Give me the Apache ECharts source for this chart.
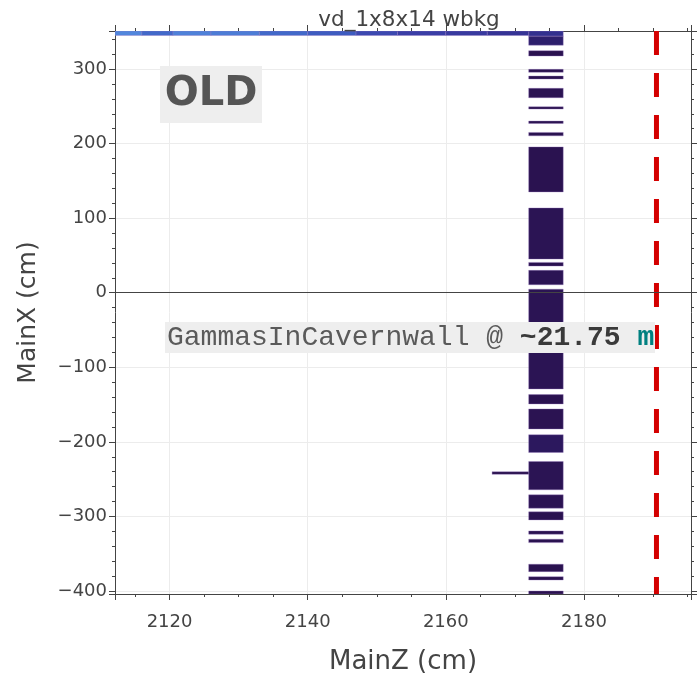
<!DOCTYPE html>
<html>
<head>
<meta charset="utf-8">
<script src="https://cdn.jsdelivr.net/npm/echarts@6.0.0/dist/echarts.min.js"></script>
<style>
html,body{margin:0;padding:0;background:#fff;}
#chart{width:699px;height:674px;}
</style>
</head>
<body>
<div id="chart"></div>
<script>
// ---- data ----
const titleText = "vd_1x8x14 wbkg";
const xName = "MainZ (cm)";
const yName = "MainX (cm)";
const zRange = [2112.1, 2195.5];
const xRange = [-404, 351];

// detector column (MainZ extent) and its bands along MainX
const columnZ = [2172.0, 2177.0];
const bandLow  = [344, 332, 317.5, 295.6, 286.6, 261.5, 246.3, 227.1, 210.4, 135.2, 45.1, 35.7, 10.7, -129, -149.1, -182.7, -214.2, -264.3, -288.9, -304.6, -323.8, -335.1, -374, -385.2, -404];
const bandHigh = [351, 344, 324.6, 299.6, 290.6, 274.1, 249.4, 230.2, 215, 195.6, 113.7, 40.7, 30, 4.8, -136.6, -155.8, -190.4, -226.3, -271, -293.8, -319.4, -330.5, -364.1, -380.8, -400];
const bandLevel = [2.7, 3.5, 4.2, 4.2, 4.2, 4.1, 4.3, 4.3, 4.2, 4.2, 4.0, 4.2, 4.0, 4.0, 4.2, 4.1, 3.8, 4.0, 4.1, 4.2, 4.2, 4.2, 4.2, 4.3, 4.3];

// thin strip along the top edge
const stripZEdges = [2112.1, 2116, 2120.5, 2126, 2133, 2140, 2147, 2153, 2160, 2166, 2172];
const stripLevel  = [0.3, 0.9, 0.4, 0.5, 0.9, 1.2, 1.7, 2.0, 2.2, 2.5];
const stripX = [345.0, 351];

// short stub left of the column
const stubZ = [2166.7, 2172.0];
const stubX = [-243.5, -240.0];
const stubLevel = 4.3;

// dashed wall marker
const wallZ = 2190.5;
const annText = ["GammasInCavernwall @ ", "~21.75", " m"];
const oldLabel = "OLD";

// ---- build cells ----
const cells = [];
for (let i = 0; i < bandLow.length; i++) {
  cells.push([columnZ[0], columnZ[1], bandLow[i], bandHigh[i], bandLevel[i]]);
}
for (let i = 0; i < stripLevel.length; i++) {
  cells.push([stripZEdges[i], stripZEdges[i + 1], stripX[0], stripX[1], stripLevel[i]]);
}
cells.push([stubZ[0], stubZ[1], stubX[0], stubX[1], stubLevel]);

function renderItem(params, api) {
  const p0 = api.coord([api.value(0), api.value(3)]);
  const p1 = api.coord([api.value(1), api.value(2)]);
  return {
    type: 'rect',
    shape: { x: p0[0], y: p0[1], width: p1[0] - p0[0], height: p1[1] - p0[1] },
    style: { fill: api.visual('color'), stroke: 'rgba(150,120,190,0.45)', lineWidth: 0.8 }
  };
}

const axisFont = { fontFamily: 'DejaVu Sans', fontSize: 18, color: '#444' };
const lineCol = '#444';
const tickFmt = (v) => (Math.abs(v % 20) < 1e-6 ? String(v) : '');
const yFmt = (v) => (Math.abs(v % 100) < 1e-6 ? String(v).replace('-', '\u2212') : '');

const chart = echarts.init(document.getElementById('chart'), null, { renderer: 'canvas' });
chart.setOption({
  animation: false,
  backgroundColor: '#fff',
  title: {
    text: titleText, left: 404, top: 4, textAlign: 'center',
    textStyle: { fontFamily: 'DejaVu Sans', fontSize: 21.5, fontWeight: 'normal', color: '#444' }
  },
  grid: { left: 115, right: 8, top: 31, bottom: 80, containLabel: false, outerBoundsMode: 'none' },
  visualMap: {
    show: false, type: 'continuous', min: 0, max: 5, dimension: 4, seriesIndex: 0,
    inRange: { color: ['#5a96e6', '#3f64c6', '#3a3ea6', '#2f2a84', '#2b1454', '#260c42'] }
  },
  xAxis: [
    {
      type: 'value', min: zRange[0], max: zRange[1], splitNumber: 4,
      name: xName, nameLocation: 'middle', nameGap: 55,
      nameTextStyle: { fontFamily: 'DejaVu Sans', fontSize: 26, color: '#444' },
      axisLine: { show: true, onZero: false, lineStyle: { color: lineCol, width: 1 } },
      axisTick: { show: true, length: 6, lineStyle: { color: lineCol } },
      minorTick: { show: true, splitNumber: 4, length: 3, lineStyle: { color: lineCol } },
      axisLabel: Object.assign({ margin: 19, formatter: tickFmt, showMinLabel: false, showMaxLabel: false }, axisFont),
      splitLine: { show: true, lineStyle: { color: '#ececec', width: 1 } }
    },
    {
      type: 'value', position: 'top', min: zRange[0], max: zRange[1], splitNumber: 4,
      axisLine: { show: true, onZero: false, lineStyle: { color: lineCol, width: 1 } },
      axisTick: { show: true, length: 6, lineStyle: { color: lineCol } },
      minorTick: { show: true, splitNumber: 4, length: 3, lineStyle: { color: lineCol } },
      axisLabel: { show: false }, splitLine: { show: false }
    }
  ],
  yAxis: [
    {
      type: 'value', min: xRange[0], max: xRange[1], splitNumber: 8,
      name: yName, nameLocation: 'middle', nameGap: 74, nameRotate: 90,
      nameTextStyle: { fontFamily: 'DejaVu Sans', fontSize: 25, color: '#444' },
      axisLine: { show: true, onZero: false, lineStyle: { color: lineCol, width: 1 } },
      axisTick: { show: true, length: 6, lineStyle: { color: lineCol } },
      minorTick: { show: true, splitNumber: 5, length: 3, lineStyle: { color: lineCol } },
      axisLabel: Object.assign({ margin: 8, formatter: yFmt, showMinLabel: false, showMaxLabel: false }, axisFont),
      splitLine: { show: true, lineStyle: { color: '#ececec', width: 1 } }
    },
    {
      type: 'value', position: 'right', min: xRange[0], max: xRange[1], splitNumber: 8,
      axisLine: { show: true, onZero: false, lineStyle: { color: lineCol, width: 1 } },
      axisTick: { show: true, length: 6, lineStyle: { color: lineCol } },
      minorTick: { show: true, splitNumber: 5, length: 3, lineStyle: { color: lineCol } },
      axisLabel: { show: false }, splitLine: { show: false }
    }
  ],
  series: [
    {
      type: 'custom', renderItem: renderItem, data: cells, z: 3, clip: true,
      encode: { x: [0, 1], y: [2, 3] }, silent: true
    },
    {
      type: 'line', data: [], z: 1, silent: true,
      markLine: {
        silent: true, symbol: 'none', label: { show: false },
        lineStyle: { color: '#444', width: 1, type: 'solid' },
        data: [{ yAxis: 0 }]
      }
    },
    {
      type: 'line', data: [[wallZ, xRange[1]], [wallZ, xRange[0]]], z: 4, silent: true,
      symbol: 'none', lineStyle: { color: '#d40000', width: 5, type: [24, 18] }
    }
  ],
  graphic: [
    { type: 'rect', z: 100, shape: { x: 160, y: 66, width: 102, height: 57 }, style: { fill: '#eeeeee' } },
    { type: 'text', z: 101, x: 211, y: 95, style: { text: oldLabel, fontFamily: 'DejaVu Sans', fontWeight: 'bold', fontSize: 40, fill: '#555', align: 'center', verticalAlign: 'middle' } },
    { type: 'rect', z: 100, shape: { x: 165, y: 322, width: 490, height: 31 }, style: { fill: '#eeeeee' } },
    {
      type: 'text', z: 101, x: 167, y: 338,
      style: {
        text: '{a|' + annText[0] + '}{b|' + annText[1] + '}{c|' + annText[2] + '}',
        verticalAlign: 'middle', align: 'left',
        rich: {
          a: { fontFamily: 'Liberation Mono', fontSize: 28, fill: '#5a5a5a' },
          b: { fontFamily: 'Liberation Mono', fontSize: 28, fontWeight: 'bold', fill: '#3a3a3a' },
          c: { fontFamily: 'Liberation Mono', fontSize: 28, fontWeight: 'bold', fill: '#008080' }
        }
      }
    }
  ]
});
</script>
</body>
</html>
